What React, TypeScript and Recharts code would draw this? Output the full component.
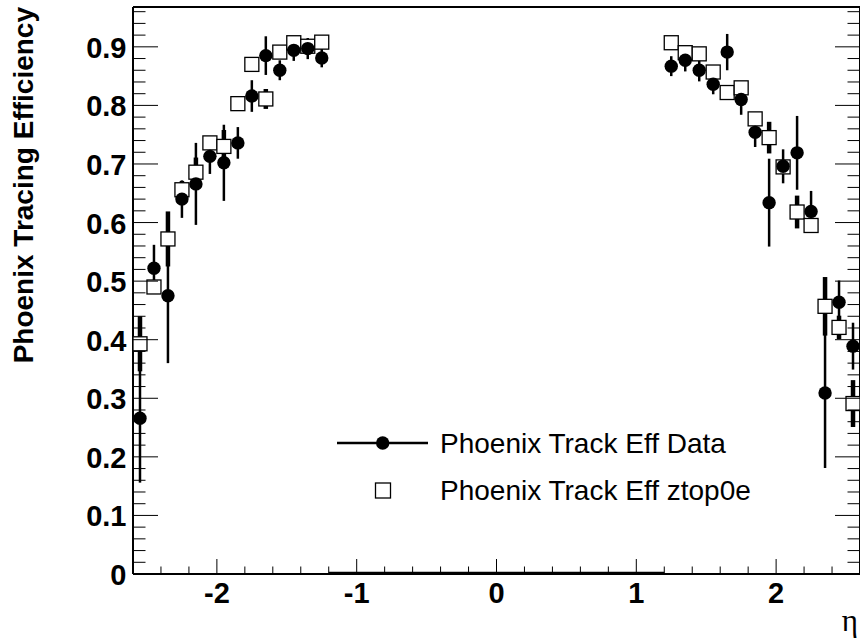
import { ScatterChart, Scatter, XAxis, YAxis, ErrorBar } from 'recharts';

// eta bin centres (both arms of the detector)
const ETA = [
  -2.55, -2.45, -2.35, -2.25, -2.15, -2.05, -1.95, -1.85, -1.75, -1.65, -1.55, -1.45, -1.35, -1.25,
  1.25, 1.35, 1.45, 1.55, 1.65, 1.75, 1.85, 1.95, 2.05, 2.15, 2.25, 2.35, 2.45, 2.55,
];

const DATA_EFF = [
  0.266, 0.522, 0.475, 0.64, 0.666, 0.713, 0.702, 0.736, 0.816, 0.885, 0.86, 0.894, 0.897, 0.881,
  0.867, 0.877, 0.86, 0.836, 0.891, 0.81, 0.754, 0.634, 0.696, 0.719, 0.619, 0.309, 0.464, 0.389,
];
const DATA_ERR = [
  0.11, 0.04, 0.115, 0.032, 0.07, 0.03, 0.065, 0.027, 0.027, 0.033, 0.017, 0.018, 0.018, 0.016,
  0.017, 0.019, 0.019, 0.017, 0.031, 0.026, 0.025, 0.075, 0.029, 0.063, 0.035, 0.128, 0.037, 0.04,
];

const MC_EFF = [
  0.393, 0.49, 0.572, 0.656, 0.686, 0.736, 0.73, 0.803, 0.87, 0.811, 0.891, 0.907, 0.901, 0.908,
  0.907, 0.89, 0.888, 0.857, 0.822, 0.83, 0.777, 0.745, 0.695, 0.618, 0.595, 0.457, 0.421, 0.291,
];
const MC_ERR = [
  0.047, 0.012, 0.047, 0.015, 0.025, 0.01, 0.028, 0.008, 0.008, 0.017, 0.008, 0.006, 0.006, 0.006,
  0.006, 0.006, 0.006, 0.008, 0.01, 0.008, 0.01, 0.027, 0.01, 0.028, 0.012, 0.05, 0.02, 0.04,
];

// empty central region, drawn as a run of zero-efficiency bins
const ZERO_ETA = [
  -1.2, -1.1, -1.0, -0.9, -0.8, -0.7, -0.6, -0.5, -0.4, -0.3, -0.2, -0.1, 0,
  0.1, 0.2, 0.3, 0.4, 0.5, 0.6, 0.7, 0.8, 0.9, 1.0, 1.1, 1.2,
];

const X_TICKS = [
  -2.6, -2.4, -2.2, -2, -1.8, -1.6, -1.4, -1.2, -1, -0.8, -0.6, -0.4, -0.2, 0,
  0.2, 0.4, 0.6, 0.8, 1, 1.2, 1.4, 1.6, 1.8, 2, 2.2, 2.4, 2.6,
];
const Y_TICKS = [
  0, 0.02, 0.04, 0.06, 0.08, 0.1, 0.12, 0.14, 0.16, 0.18, 0.2, 0.22, 0.24, 0.26, 0.28, 0.3,
  0.32, 0.34, 0.36, 0.38, 0.4, 0.42, 0.44, 0.46, 0.48, 0.5, 0.52, 0.54, 0.56, 0.58, 0.6,
  0.62, 0.64, 0.66, 0.68, 0.7, 0.72, 0.74, 0.76, 0.78, 0.8, 0.82, 0.84, 0.86, 0.88, 0.9,
  0.92, 0.94, 0.96,
];

const dataPts = ETA.map((x, i) => ({ x, y: DATA_EFF[i], err: DATA_ERR[i] }));
const mcPts = ETA.map((x, i) => ({ x, y: MC_EFF[i], err: MC_ERR[i] }));
const zeroPts = ZERO_ETA.map((x) => ({ x, y: 0 }));

const FONT = '"Liberation Sans", Arial, sans-serif';

const isMajorX = (v: number) => Math.abs(v - Math.round(v)) < 1e-6;
const isMajorY = (v: number) => Math.abs(v * 10 - Math.round(v * 10)) < 1e-6;

const BottomTick = ({ x, y, payload }: any) => {
  const major = isMajorX(payload.value);
  return (
    <g>
      <line x1={x} x2={x} y1={y} y2={y - (major ? 15 : 7.5)} stroke="#000" strokeWidth={1} />
      {major && (
        <text x={x} y={y + 29} textAnchor="middle" fontFamily={FONT} fontWeight="bold" fontSize={29} fill="#000">
          {payload.value}
        </text>
      )}
    </g>
  );
};

const TopTick = ({ x, y, payload }: any) => (
  <line x1={x} x2={x} y1={y} y2={y + (isMajorX(payload.value) ? 15 : 7.5)} stroke="#000" strokeWidth={1} />
);

const LeftTick = ({ x, y, payload }: any) => {
  const major = isMajorY(payload.value);
  return (
    <g>
      <line x1={x} x2={x + (major ? 25 : 12.5)} y1={y} y2={y} stroke="#000" strokeWidth={1} />
      {major && (
        <text x={x - 6.5} y={y + 11} textAnchor="end" fontFamily={FONT} fontWeight="bold" fontSize={29} fill="#000">
          {Math.round(payload.value * 10) / 10}
        </text>
      )}
    </g>
  );
};

const RightTick = ({ x, y, payload }: any) => (
  <line x1={x} x2={x - (isMajorY(payload.value) ? 25 : 12.5)} y1={y} y2={y} stroke="#000" strokeWidth={1} />
);

const Dot = ({ cx, cy }: any) => <circle cx={cx} cy={cy} r={6.7} fill="#000" />;
const Box = ({ cx, cy }: any) => (
  <rect x={cx - 7} y={cy - 7} width={14} height={14} fill="#fff" stroke="#000" strokeWidth={1.3} />
);
const Nothing = () => <g />;

const axisLine = { stroke: '#000', strokeWidth: 2 };

const App = () => {
  return (
    <div style={{ position: 'fixed', left: 0, top: 0, width: 860, height: 641, overflow: 'hidden', background: '#fff' }}>
      <ScatterChart width={870} height={641} margin={{ top: 6, right: 9, bottom: 0, left: 0 }}>
        <XAxis
          xAxisId="b"
          type="number"
          dataKey="x"
          orientation="bottom"
          domain={[-2.6, 2.6]}
          allowDataOverflow
          ticks={X_TICKS}
          interval={0}
          height={67}
          tickSize={0}
          tickMargin={0}
          tickLine={false}
          axisLine={axisLine}
          tick={<BottomTick />}
        />
        <XAxis
          xAxisId="t"
          type="number"
          orientation="top"
          domain={[-2.6, 2.6]}
          allowDataOverflow
          ticks={X_TICKS}
          interval={0}
          height={1}
          tickSize={0}
          tickMargin={0}
          tickLine={false}
          axisLine={axisLine}
          tick={<TopTick />}
        />
        <YAxis
          yAxisId="l"
          type="number"
          dataKey="y"
          orientation="left"
          domain={[0, 0.968]}
          allowDataOverflow
          ticks={Y_TICKS}
          interval={0}
          width={133}
          tickSize={0}
          tickMargin={0}
          tickLine={false}
          axisLine={axisLine}
          tick={<LeftTick />}
        />
        <YAxis
          yAxisId="r"
          type="number"
          orientation="right"
          domain={[0, 0.968]}
          allowDataOverflow
          ticks={Y_TICKS}
          interval={0}
          width={1}
          tickSize={0}
          tickMargin={0}
          tickLine={false}
          axisLine={axisLine}
          tick={<RightTick />}
        />
        <Scatter
          xAxisId="b"
          yAxisId="l"
          data={zeroPts}
          line={{ stroke: '#000', strokeWidth: 4.5 }}
          shape={<Nothing />}
          isAnimationActive={false}
        />
        <Scatter xAxisId="b" yAxisId="l" data={dataPts} shape={<Nothing />} isAnimationActive={false}>
          <ErrorBar dataKey="err" direction="y" width={0} stroke="#000" strokeWidth={2.5} isAnimationActive={false} />
        </Scatter>
        <Scatter xAxisId="b" yAxisId="l" data={mcPts} shape={<Box />} isAnimationActive={false}>
          <ErrorBar dataKey="err" direction="y" width={0} stroke="#000" strokeWidth={4.5} isAnimationActive={false} />
        </Scatter>
        <Scatter xAxisId="b" yAxisId="l" data={dataPts} shape={<Dot />} isAnimationActive={false} />
      </ScatterChart>
      <svg width={860} height={641} style={{ position: 'absolute', left: 0, top: 0, pointerEvents: 'none' }}>
        <text
          transform="translate(33,7) rotate(-90)"
          textAnchor="end"
          fontFamily={FONT}
          fontWeight="bold"
          fontSize={28}
          fill="#000"
        >
          Phoenix Tracing Efficiency
        </text>
        <text x={858} y={631} textAnchor="end" fontFamily='"Liberation Serif", serif' fontSize={31} fill="#000">
          η
        </text>
        <line x1={337} x2={428} y1={443} y2={443} stroke="#000" strokeWidth={2.5} />
        <circle cx={382.7} cy={443} r={6.7} fill="#000" />
        <text x={440} y={453} fontFamily={FONT} fontSize={28} fill="#000">
          Phoenix Track Eff Data
        </text>
        <rect x={375.5} y={483} width={15} height={15} fill="#fff" stroke="#000" strokeWidth={1.3} />
        <text x={440} y={500} fontFamily={FONT} fontSize={28} fill="#000">
          Phoenix Track Eff ztop0e
        </text>
      </svg>
    </div>
  );
};

export default App;
